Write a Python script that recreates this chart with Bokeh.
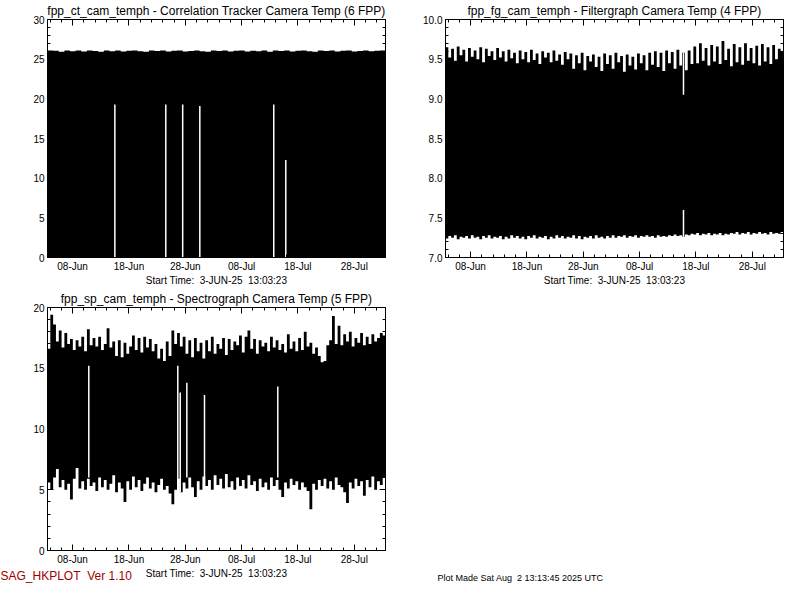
import pandas as pd
from bokeh.plotting import figure
from bokeh.models import (Range1d, FixedTicker, DatetimeAxis, LinearAxis,
                          DatetimeTickFormatter, PrintfTickFormatter, Label,
                          ColumnDataSource, CustomLabelingPolicy)
from bokeh.layouts import column, row
from bokeh.embed import file_html
from bokeh.resources import INLINE

FONT = "Liberation Sans"
NB = "\u00a0"

# ---------------- data ----------------
START = "2025-06-03 13:03:23"
END = "2025-08-02 13:03:23"
START_LABEL = "Start Time:" + NB + " 3-JUN-25" + NB + " 13:03:23"
PROGRAM_LABEL = "SAG_HKPLOT" + NB + " Ver 1.10"
MADE_LABEL = "Plot Made Sat Aug" + NB + " 2 13:13:45 2025 UTC"

x_major_dates = ["2025-06-08", "2025-06-18", "2025-06-28",
                 "2025-07-08", "2025-07-18", "2025-07-28"]

# Correlation tracker camera temperature: upper envelope (1 sample / day), lower edge
ct_upper = [26.10, 26.05, 25.95, 26.10, 26.00, 26.08, 25.98, 26.10, 26.02, 25.95,
            26.08, 26.00, 26.10, 25.96, 26.05, 26.10, 26.00, 25.94, 26.08, 26.02,
            26.10, 25.98, 26.05, 26.10, 25.96, 26.04, 26.10, 26.00, 25.95, 26.08,
            26.02, 26.10, 25.97, 26.05, 26.10, 25.98, 26.06, 26.00, 26.10, 25.95,
            26.08, 26.02, 26.10, 25.96, 26.05, 26.10, 26.00, 25.95, 26.08, 26.03,
            26.10, 25.98, 26.05, 26.10, 25.97, 26.04, 26.10, 26.00, 26.06, 26.10]
ct_lower = [0.0] * len(ct_upper)
ct_gap_times = ["2025-06-15 12:00", "2025-06-24 13:00", "2025-06-27 13:00",
                "2025-06-30 14:00", "2025-07-13 17:00", "2025-07-15 20:15"]
ct_gap_low = [0.0, 0.0, 0.0, 0.0, 0.0, 0.0]
ct_gap_high = [19.3, 19.3, 19.3, 19.1, 19.3, 12.3]

# Filtergraph camera temperature (2 samples / day)
fg_upper = [9.65, 9.52, 9.63, 9.48, 9.66, 9.55, 9.62, 9.47, 9.64, 9.53,
            9.61, 9.50, 9.65, 9.46, 9.63, 9.54, 9.60, 9.49, 9.64, 9.52,
            9.60, 9.47, 9.62, 9.51, 9.58, 9.45, 9.61, 9.50, 9.59, 9.46,
            9.62, 9.49, 9.57, 9.44, 9.60, 9.52, 9.58, 9.46, 9.61, 9.48,
            9.56, 9.43, 9.59, 9.50, 9.57, 9.38, 9.55, 9.45, 9.58, 9.36,
            9.54, 9.47, 9.56, 9.40, 9.53, 9.35, 9.57, 9.44, 9.55, 9.38,
            9.58, 9.46, 9.54, 9.34, 9.56, 9.42, 9.53, 9.37, 9.57, 9.45,
            9.55, 9.36, 9.58, 9.43, 9.60, 9.40, 9.58, 9.35, 9.61, 9.45,
            9.59, 9.38, 9.62, 9.42, 9.58, 9.36, 9.61, 9.44, 9.66, 9.45,
            9.70, 9.48, 9.64, 9.42, 9.68, 9.47, 9.66, 9.44, 9.73, 9.49,
            9.63, 9.41, 9.69, 9.46, 9.65, 9.43, 9.70, 9.48, 9.64, 9.45,
            9.67, 9.42, 9.69, 9.47, 9.65, 9.44, 9.68, 9.50, 9.63, 9.60]
fg_lower = [7.24, 7.27, 7.25, 7.28, 7.23, 7.26, 7.25, 7.27, 7.24, 7.28,
            7.25, 7.26, 7.23, 7.27, 7.25, 7.28, 7.24, 7.26, 7.25, 7.27,
            7.23, 7.26, 7.24, 7.28, 7.25, 7.27, 7.24, 7.26, 7.23, 7.27,
            7.25, 7.28, 7.24, 7.26, 7.25, 7.27, 7.23, 7.26, 7.24, 7.28,
            7.25, 7.27, 7.24, 7.26, 7.25, 7.28, 7.24, 7.27, 7.23, 7.26,
            7.25, 7.27, 7.24, 7.28, 7.25, 7.26, 7.24, 7.27, 7.25, 7.28,
            7.25, 7.27, 7.26, 7.28, 7.25, 7.27, 7.26, 7.28, 7.25, 7.27,
            7.26, 7.28, 7.26, 7.27, 7.25, 7.28, 7.26, 7.27, 7.26, 7.28,
            7.27, 7.29, 7.27, 7.28, 7.26, 7.29, 7.28, 7.30, 7.29, 7.31,
            7.28, 7.30, 7.29, 7.31, 7.28, 7.30, 7.29, 7.31, 7.28, 7.30,
            7.29, 7.31, 7.30, 7.32, 7.29, 7.31, 7.30, 7.32, 7.29, 7.31,
            7.30, 7.32, 7.30, 7.31, 7.29, 7.32, 7.30, 7.31, 7.30, 7.32]
fg_gap_times = ["2025-07-15 19:00", "2025-07-15 19:00"]
fg_gap_low = [7.25, 9.05]
fg_gap_high = [7.60, 9.58]

# Spectrograph camera temperature (2 samples / day)
sp_upper = [16.6, 19.4, 18.6, 17.2, 18.1, 16.7, 17.9, 17.0, 17.4, 16.5,
            17.3, 16.8, 17.6, 16.4, 18.2, 16.9, 17.5, 16.8, 17.6, 16.5,
            17.0, 18.3, 16.7, 17.2, 16.0, 17.3, 15.9, 17.1, 16.2, 16.8,
            17.7, 16.5, 17.5, 16.3, 17.6, 16.7, 17.4, 16.4, 17.0, 15.8,
            16.6, 15.6, 17.2, 16.0, 18.1, 17.0, 17.9, 16.8, 17.6, 16.2,
            17.3, 15.9, 17.5, 16.4, 17.1, 15.8, 17.3, 16.4, 17.6, 16.2,
            17.0, 16.6, 17.5, 16.1, 17.4, 16.5, 17.2, 16.9, 17.7, 16.3,
            17.6, 18.1, 16.6, 17.4, 16.2, 17.3, 16.8, 17.1, 16.4, 17.6,
            16.7, 17.3, 16.5, 17.0, 16.3, 17.8, 16.6, 17.2, 16.4, 17.5,
            16.5, 18.0, 16.8, 17.1, 16.2, 16.7, 16.0, 15.5, 15.6, 16.9,
            17.3, 19.3, 17.0, 18.5, 16.9, 17.8, 17.2, 18.0, 16.8, 17.5,
            17.1, 17.9, 16.9, 17.6, 17.0, 17.8, 17.2, 17.5, 17.9, 17.7]
sp_lower = [5.6, 5.0, 6.0, 6.7, 5.2, 5.8, 5.0, 5.5, 4.2, 5.9,
            6.8, 5.1, 5.7, 5.0, 5.9, 5.3, 5.6, 4.9, 6.0, 5.2,
            5.8, 5.0, 5.5, 6.2, 4.8, 5.6, 5.1, 4.0, 5.7, 5.0,
            6.1, 5.2, 5.8, 4.9, 5.5, 6.0, 5.1, 5.6, 4.8, 5.4,
            5.9, 5.0, 5.3, 4.7, 3.8, 5.0, 5.9, 4.8, 5.6, 5.1,
            6.0, 5.2, 4.4, 5.7, 5.0, 6.1, 5.3, 5.8, 5.0, 6.2,
            5.4, 5.9, 5.1, 6.3, 5.2, 5.7, 5.0, 6.0, 5.3, 5.8,
            5.1, 6.2, 5.4, 5.7, 4.9, 5.9, 5.2, 5.6, 5.0, 6.0,
            5.3, 5.8, 5.0, 4.4, 5.6, 5.1, 5.9, 5.4, 5.7, 5.0,
            5.6, 5.2, 4.9, 3.4, 5.5, 5.0, 5.8, 5.3, 5.9, 5.1,
            5.7, 5.0, 6.0, 5.4, 5.2, 4.8, 3.9, 5.6, 5.1, 5.9,
            5.3, 5.7, 4.5, 5.8, 5.2, 6.1, 5.0, 5.7, 5.4, 6.0]
sp_gap_times = ["2025-06-10 21:00", "2025-06-26 16:10", "2025-06-27 02:30",
                "2025-06-28 06:40", "2025-07-01 09:55", "2025-07-14 10:10"]
sp_gap_low = [6.0, 4.8, 4.8, 6.0, 5.2, 6.0]
sp_gap_high = [15.2, 15.2, 13.0, 13.8, 12.8, 13.5]

# ---------------- helpers ----------------
t0 = pd.Timestamp(START)
t1 = pd.Timestamp(END)


def ms(ts):
    return pd.Timestamp(ts).value / 1e6


x_major = [ms(d) for d in x_major_dates]
x_minor = [ms(d) for d in pd.date_range("2025-06-04", "2025-08-02", freq="2D")]

DT_FMT = DatetimeTickFormatter(
    microseconds="%d-%b", milliseconds="%d-%b", seconds="%d-%b",
    minsec="%d-%b", minutes="%d-%b", hourmin="%d-%b", hours="%d-%b",
    days="%d-%b", months="%d-%b", years="%d-%b")

NO_LABELS = CustomLabelingPolicy(code="""
    const ids = Array.from(indices)
    for (const i of ids) { indices.unset(i) }
    return indices
""")


def style_axis(ax, show_labels=True):
    ax.axis_line_color = "black"
    ax.axis_line_width = 1
    ax.major_tick_in = 6
    ax.major_tick_out = 0
    ax.minor_tick_in = 3
    ax.minor_tick_out = 0
    ax.major_tick_line_color = "black"
    ax.minor_tick_line_color = "black"
    ax.major_label_text_font = FONT
    ax.major_label_text_color = "black"
    if show_labels:
        ax.major_label_text_font_size = "10px"
        ax.major_label_standoff = 3
    else:
        ax.major_label_text_font_size = "0px"
        ax.major_label_standoff = 0
        ax.major_label_policy = NO_LABELS


def make_panel(title, upper, lower, gap_t, gap_lo, gap_hi, y0, y1,
               y_major, y_minor, y_fmt, width, height, bl, br, bt, bb,
               x_label=None):
    p = figure(width=width, height=height, x_axis_type="datetime",
               x_range=Range1d(t0, t1), y_range=Range1d(y0, y1),
               output_backend="svg", toolbar_location=None,
               min_border_left=bl, min_border_right=br,
               min_border_top=bt, min_border_bottom=bb,
               background_fill_color="white", border_fill_color="white")
    p.outline_line_color = "black"
    p.grid.visible = False

    n = len(upper)
    xs = pd.date_range(t0, t1, periods=n + 1)
    src = ColumnDataSource(dict(x=xs, top=list(upper) + [upper[-1]],
                                bottom=list(lower) + [lower[-1]]))
    p.varea_step(x="x", y1="bottom", y2="top", source=src, step_mode="after",
                 fill_color="black")

    gsrc = ColumnDataSource(dict(t=pd.to_datetime(gap_t), lo=gap_lo, hi=gap_hi))
    p.segment(x0="t", y0="lo", x1="t", y1="hi", source=gsrc,
              line_color="white", line_width=1.5)

    yt = FixedTicker(ticks=y_major, minor_ticks=y_minor)
    xt = FixedTicker(ticks=x_major, minor_ticks=x_minor)

    p.xaxis.ticker = xt
    p.xaxis.formatter = DT_FMT
    p.yaxis.ticker = yt
    p.yaxis.formatter = PrintfTickFormatter(format=y_fmt)
    for ax in p.xaxis + p.yaxis:
        style_axis(ax)
    p.xaxis.major_label_standoff = 3
    if x_label:
        p.xaxis.axis_label = x_label
        p.xaxis.axis_label_text_font = FONT
        p.xaxis.axis_label_text_font_size = "10px"
        p.xaxis.axis_label_text_font_style = "normal"
        p.xaxis.axis_label_text_color = "black"
        p.xaxis.axis_label_standoff = 0
    p.yaxis.major_label_standoff = 3

    top_ax = DatetimeAxis(ticker=xt, formatter=DT_FMT)
    style_axis(top_ax, show_labels=False)
    p.add_layout(top_ax, "above")
    right_ax = LinearAxis(ticker=yt)
    style_axis(right_ax, show_labels=False)
    p.add_layout(right_ax, "right")

    p.title.text = title
    p.title.align = "center"
    p.title.text_font = FONT
    p.title.text_font_size = "12px"
    p.title.text_font_style = "normal"
    p.title.text_color = "black"
    p.title.standoff = 3
    p.title.offset = 0
    return p


p1 = make_panel("fpp_ct_cam_temph - Correlation Tracker Camera Temp (6 FPP)",
                ct_upper, ct_lower, ct_gap_times, ct_gap_low, ct_gap_high,
                0, 30, [0, 5, 10, 15, 20, 25, 30], list(range(31)), "%d",
                392, 288, 47, 7, 16, 27, x_label=START_LABEL)

p2 = make_panel("fpp_fg_cam_temph - Filtergraph Camera Temp (4 FPP)",
                fg_upper, fg_lower, fg_gap_times, fg_gap_low, fg_gap_high,
                7.0, 10.0, [7.0, 7.5, 8.0, 8.5, 9.0, 9.5, 10.0],
                [round(7.0 + 0.1 * k, 1) for k in range(31)], "%.1f",
                392, 288, 53, 1, 16, 27, x_label=START_LABEL)

p3 = make_panel("fpp_sp_cam_temph - Spectrograph Camera Temp (5 FPP)",
                sp_upper, sp_lower, sp_gap_times, sp_gap_low, sp_gap_high,
                0, 20, [0, 5, 10, 15, 20], list(range(21)), "%d",
                392, 279, 47, 7, 19, 17)

p4 = figure(width=392, height=279, x_range=Range1d(0, 1), y_range=Range1d(0, 1),
            x_axis_type=None, y_axis_type=None, min_border=0,
            output_backend="svg", toolbar_location=None)
p4.outline_line_color = None
p4.grid.visible = False

# footer strip: program name, start time of the lower panel, creation stamp
footer = figure(width=784, height=17, x_range=Range1d(0, 784), y_range=Range1d(0, 17),
                x_axis_type=None, y_axis_type=None, min_border=0,
                output_backend="svg", toolbar_location=None)
footer.outline_line_color = None
footer.grid.visible = False
footer.add_layout(Label(x=0, y=9, text=PROGRAM_LABEL, text_font=FONT,
                        text_font_size="12px", text_color="#a00000",
                        text_align="left", text_baseline="middle"))
footer.add_layout(Label(x=216, y=11, text=START_LABEL, text_font=FONT,
                        text_font_size="10px", text_color="black",
                        text_align="center", text_baseline="middle"))
footer.add_layout(Label(x=437, y=7, text=MADE_LABEL, text_font=FONT,
                        text_font_size="9px", text_color="black",
                        text_align="left", text_baseline="middle"))

layout = column(row(p1, p2), row(p3, p4), footer)

with open("out.html", "w") as f:
    f.write(file_html(layout, INLINE))
